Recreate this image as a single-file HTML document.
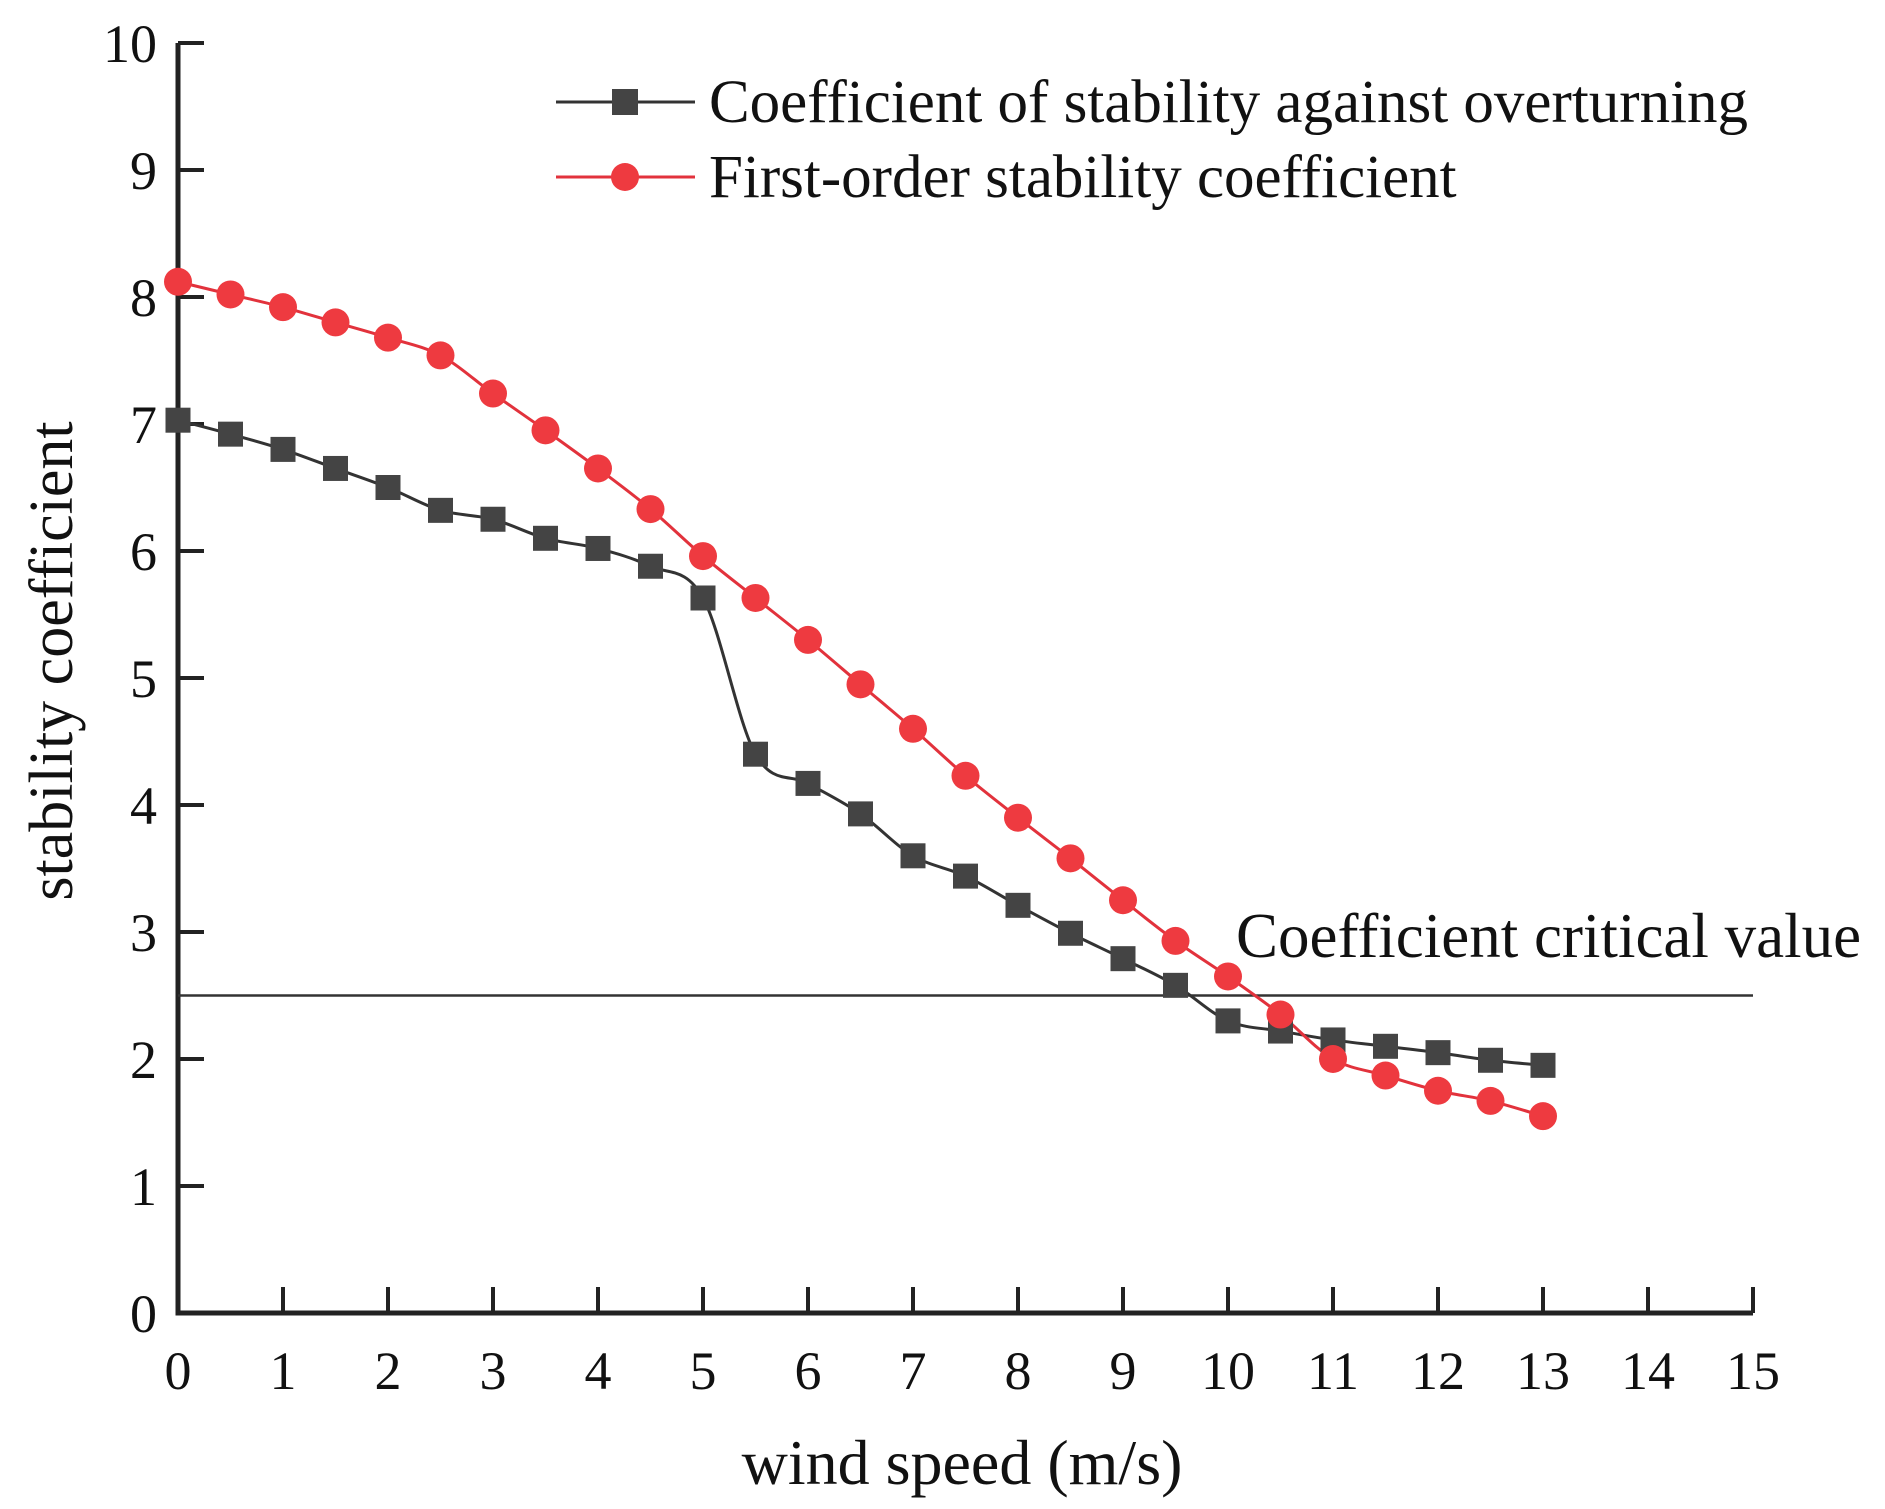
<!DOCTYPE html>
<html><head><meta charset="utf-8"><style>
body{margin:0;background:#fff}
svg{display:block;font-family:"Liberation Serif",serif}
</style></head><body>
<svg id="chart" width="1885" height="1509" viewBox="0 0 1885 1509" xmlns="http://www.w3.org/2000/svg">
<g id="axes"></g>
<g id="plot"></g>
<text x="962" y="1484" font-size="64" text-anchor="middle" fill="#111">wind speed (m/s)</text>
<text transform="translate(72,661) rotate(-90)" font-size="62" text-anchor="middle" fill="#111">stability coefficient</text>
<text x="1236" y="957" font-size="63" fill="#111">Coefficient critical value</text>
<g>
<g>
<line x1="556" y1="102" x2="695" y2="102" stroke="#333" stroke-width="3"/>
<rect x="612" y="89" width="26" height="26" fill="#444"/>
<text x="709" y="122" font-size="61" fill="#111">Coefficient of stability against overturning</text>
</g>
<g>
<line x1="556" y1="177" x2="695" y2="177" stroke="#e2323c" stroke-width="3"/>
<circle cx="625" cy="177" r="14" fill="#ee3a40"/>
<text x="709" y="197" font-size="61" fill="#111">First-order stability coefficient</text>
</g>
</g>
</svg>
<script>
const xValues=[0,0.5,1,1.5,2,2.5,3,3.5,4,4.5,5,5.5,6,6.5,7,7.5,8,8.5,9,9.5,10,10.5,11,11.5,12,12.5,13];
const overturning=[7.03,6.92,6.8,6.65,6.5,6.32,6.25,6.1,6.02,5.88,5.63,4.4,4.17,3.93,3.6,3.44,3.21,2.99,2.79,2.58,2.3,2.22,2.15,2.1,2.05,1.99,1.95];
const firstOrder=[8.12,8.02,7.92,7.8,7.68,7.54,7.24,6.95,6.65,6.33,5.96,5.63,5.3,4.95,4.6,4.23,3.9,3.58,3.25,2.93,2.65,2.35,2.0,1.87,1.75,1.67,1.55];
const criticalValue=2.5;
const xTicks=[0,1,2,3,4,5,6,7,8,9,10,11,12,13,14,15];
const yTicks=[0,1,2,3,4,5,6,7,8,9,10];
const NS="http://www.w3.org/2000/svg";
const X0=178,X1=1753,Y0=1313,Y1=43;
function sx(v){return X0+(X1-X0)*v/15;}
function sy(v){return Y0-(Y0-Y1)*v/10;}
function mk(t,a,p){const e=document.createElementNS(NS,t);for(const k in a)e.setAttribute(k,a[k]);(p||document.getElementById('plot')).appendChild(e);return e;}
const ax=document.getElementById('axes');
let a=mk('path',{d:`M${X0} ${Y1}V${Y0}H${X1}`,fill:'none',stroke:'#222','stroke-width':5},ax);


xTicks.forEach(t=>{
 const l=mk('line',{x1:sx(t),x2:sx(t),y1:Y0,y2:Y0-26,stroke:'#222','stroke-width':4},ax);
 
 
 const tx=mk('text',{x:sx(t),y:1389,'font-size':54,'text-anchor':'middle',fill:'#111'},ax);
 tx.textContent=t;
 
 
});
yTicks.forEach(t=>{
 const l=mk('line',{x1:X0,x2:X0+26,y1:sy(t),y2:sy(t),stroke:'#222','stroke-width':4},ax);
 
 
 const tx=mk('text',{x:157,y:sy(t)+19,'font-size':54,'text-anchor':'end',fill:'#111'},ax);
 tx.textContent=t;
 
 
});
const cl=mk('line',{x1:sx(0),x2:sx(15),y1:sy(criticalValue),y2:sy(criticalValue),stroke:'#333','stroke-width':2.5});


function spline(ys){
 const p=xValues.map((x,i)=>[sx(x),sy(ys[i])]);
 let d=`M${p[0][0]} ${p[0][1]}`;
 for(let i=0;i<p.length-1;i++){
  const p0=p[i-1]||p[i],p1=p[i],p2=p[i+1],p3=p[i+2]||p[i+1];
  d+=`C${p1[0]+(p2[0]-p0[0])/6} ${p1[1]+(p2[1]-p0[1])/6} ${p2[0]-(p3[0]-p1[0])/6} ${p2[1]-(p3[1]-p1[1])/6} ${p2[0]} ${p2[1]}`;
 }
 return d;
}
const l1=mk('path',{d:spline(overturning),fill:'none',stroke:'#333','stroke-width':3});


const l2=mk('path',{d:spline(firstOrder),fill:'none',stroke:'#e2323c','stroke-width':3});


xValues.forEach((x,i)=>{
 const r=mk('rect',{x:sx(x)-12.5,y:sy(overturning[i])-12.5,width:25,height:25,fill:'#444'});
 
 
});
xValues.forEach((x,i)=>{
 const c=mk('circle',{cx:sx(x),cy:sy(firstOrder[i]),r:14,fill:'#ee3a40'});
 
 
});
</script>
</body></html>
